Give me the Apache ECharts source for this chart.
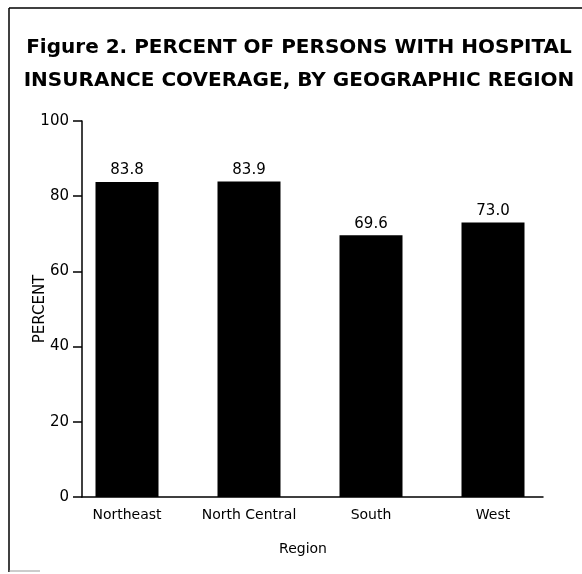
<!DOCTYPE html>
<html><head><meta charset="utf-8">
<script src="https://cdn.jsdelivr.net/npm/echarts@6/dist/echarts.min.js"></script>
<style>html,body{margin:0;padding:0;background:#fff}#c{width:582px;height:574px}</style>
</head><body><div id="c"></div>
<script>
const categories = ['Northeast', 'North Central', 'South', 'West'];
const percentValues = [83.8, 83.9, 69.6, 73.0];
const yTicks = [0, 20, 40, 60, 80, 100];

const chart = echarts.init(document.getElementById('c'), null, {renderer: 'canvas'});
const font = 'DejaVu Sans';
chart.setOption({
  animation: false,
  backgroundColor: '#fff',
  title: {
    text: 'Figure 2. PERCENT OF PERSONS WITH HOSPITAL\nINSURANCE COVERAGE, BY GEOGRAPHIC REGION',
    left: 294, top: 26, textAlign: 'center',
    textStyle: {fontFamily: font, fontWeight: 'bold', fontSize: 20, lineHeight: 33, color: '#000'}
  },
  grid: [
    {left: 82, right: 39, top: 121, bottom: 77},
    {left: 66, right: 28, top: 121, bottom: 77}
  ],
  xAxis: [
    {gridIndex: 0, type: 'category', data: categories, axisLine: {lineStyle: {color: '#000', width: 1.5}},
     axisTick: {show: false}, axisLabel: {show: false}},
    {gridIndex: 1, type: 'category', data: categories, axisLine: {show: false}, axisTick: {show: false},
     axisLabel: {fontFamily: font, fontSize: 14, color: '#000', margin: 11, interval: 0, hideOverlap: false},
     name: 'Region', nameLocation: 'middle', nameGap: 45, nameMoveOverlap: false,
     nameTextStyle: {fontFamily: font, fontSize: 14, color: '#000', padding: [0, 14, 0, 0]}}
  ],
  yAxis: [
    {gridIndex: 0, type: 'value', min: 0, max: 100, interval: 20,
     axisLine: {show: true, lineStyle: {color: '#000', width: 1.5}},
     axisTick: {show: true, length: 9, lineStyle: {color: '#000', width: 1.5}},
     splitLine: {show: false},
     axisLabel: {fontFamily: font, fontSize: 15, color: '#000', margin: 13,
       formatter: v => yTicks.includes(v) ? String(v) : ''},
     name: 'PERCENT', nameLocation: 'middle', nameGap: 34, nameMoveOverlap: false,
     nameTextStyle: {fontFamily: font, fontSize: 15, color: '#000'}},
    {gridIndex: 1, type: 'value', min: 0, max: 100, show: false}
  ],
  series: [{
    type: 'bar', xAxisIndex: 1, yAxisIndex: 1, data: percentValues, barWidth: 63,
    itemStyle: {color: '#000'},
    label: {show: true, position: 'top', distance: 4, fontFamily: font, fontSize: 15, color: '#000',
      formatter: p => p.value.toFixed(1)}
  }],
  graphic: [
    {type: 'line', shape: {x1: 9, y1: 8, x2: 582, y2: 8}, style: {stroke: '#000', lineWidth: 1.5}},
    {type: 'line', shape: {x1: 9, y1: 8, x2: 9, y2: 572}, style: {stroke: '#000', lineWidth: 1.5}},
    {type: 'line', shape: {x1: 9, y1: 571, x2: 40, y2: 571}, style: {stroke: '#999', lineWidth: 1}}
  ]
});
</script></body></html>
